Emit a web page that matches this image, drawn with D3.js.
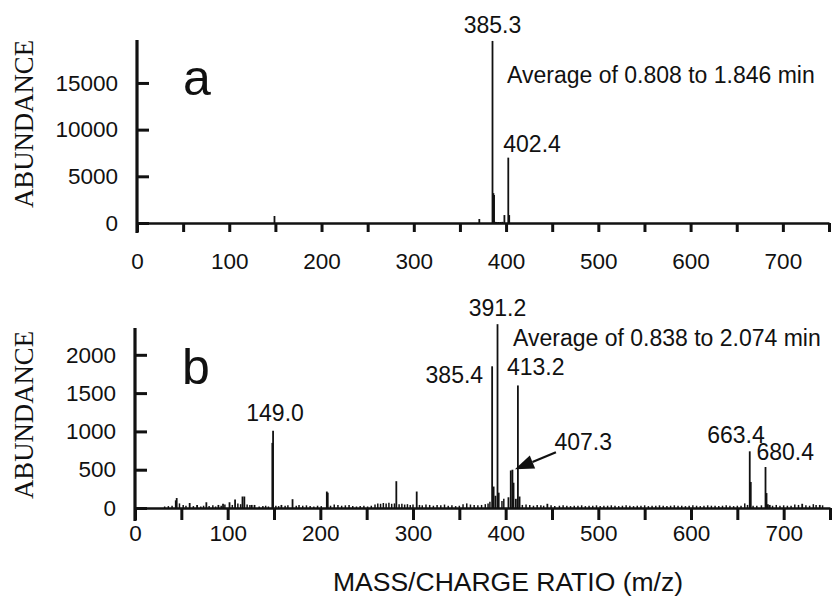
<!DOCTYPE html>
<html><head><meta charset="utf-8">
<script src="https://cdn.jsdelivr.net/npm/d3@7"></script>
<style>
html,body{margin:0;padding:0;background:#fff;}
svg{display:block;}
text{font-family:"Liberation Sans",Arial,Helvetica,sans-serif;fill:#111;}
</style></head>
<body>
<svg id="chart" width="837" height="596"></svg>
<script>
// ---------- data ----------
const xTickValues = [0,50,100,150,200,250,300,350,400,450,500,550,600,650,700,750];
const xTickLabels = [0,100,200,300,400,500,600,700];
const yTicksA = [0,5000,10000,15000];
const yTicksB = [0,500,1000,1500,2000];

// Panel a: spectrum lines (m/z, abundance)
const aMz    = [149, 371, 385.3, 386.3, 387.0, 388.5, 390, 392, 394, 396, 398.2, 402.4, 403.4];
const aAbund = [750, 430, 19500, 3200, 3000, 120, 110, 110, 110, 120, 850, 7000, 850];
const aLabelMz   = [385.3, 402.4];
const aLabelText = ["385.3", "402.4"];
const aLabelAbund= [19500, 7000];
const aNote = "Average of 0.808 to 1.846 min";

// Panel b: main spectrum lines
const bMz    = [44, 45, 59, 67, 77, 90, 95, 102, 108, 116, 118, 126, 129, 148.2, 149.0, 158, 170, 207, 208, 282, 304,
                385.4, 387, 389, 391.2, 392.5, 403, 405.5, 407.3, 408.5, 411, 413.2, 415, 445, 663.4, 664.5, 680.4, 681.5, 683, 685, 720, 739];
const bAbund = [100, 130, 65, 40, 75, 40, 55, 75, 110, 150, 150, 40, 40, 850, 1010, 40, 115, 215, 200, 350, 215,
                1850, 280, 160, 2400, 200, 140, 490, 500, 330, 120, 1600, 150, 55, 740, 340, 535, 195, 50, 40, 55, 40];
// Panel b: small baseline noise lines
const bNoiseMz    = [32,36,40,48,52,55,63,71,74,80,84,87,93,97,105,111,114,121,124,134,138,141,144,152,155,162,165,174,177,181,185,189,193,197,201,
                     211,215,219,223,227,231,235,239,243,247,251,255,259,262,265,268,271,274,277,280,285,288,291,294,297,300,307,310,314,318,322,326,
                     330,334,338,342,346,350,354,358,362,366,370,374,378,381,383,396,398,418,422,426,430,434,438,441,449,453,458,462,466,470,474,478,
                     482,486,490,494,498,502,506,510,514,518,522,526,530,534,538,542,546,550,554,558,562,566,570,574,578,582,586,590,594,598,602,606,
                     610,614,618,622,626,630,634,638,642,646,650,654,658,661,667,671,676,688,692,696,700,704,708,712,716,724,728,732,735,742,746];
const bNoiseAbund = [20,25,30,60,40,30,25,20,30,25,35,20,30,45,40,60,50,45,40,20,25,30,20,30,25,30,35,30,40,30,35,25,20,30,25,
                     30,45,40,30,35,40,25,20,25,30,20,30,45,60,55,65,60,70,55,60,50,55,45,50,40,45,40,35,45,40,30,40,
                     35,45,30,35,25,30,50,60,45,40,35,40,50,60,80,90,120,40,45,40,30,40,35,30,35,25,30,35,30,25,30,
                     30,35,25,30,30,35,25,30,30,35,30,25,30,35,30,25,30,30,35,25,30,30,35,30,25,30,35,30,30,25,30,35,
                     30,25,30,35,30,30,25,30,35,30,25,30,30,60,40,30,30,35,30,40,30,35,30,30,45,40,35,30,50,40,35];
const bLabelMz    = [149.0, 385.4, 391.2, 413.2, 407.3, 663.4, 680.4];
const bLabelText  = ["149.0", "385.4", "391.2", "413.2", "407.3", "663.4", "680.4"];
const bLabelAbund = [1010, 1850, 2400, 1600, 500, 740, 535];
const bNote = "Average of 0.838 to 2.074 min";

const yTitle = "ABUNDANCE";
const xTitle = "MASS/CHARGE RATIO (m/z)";

// ---------- layout (positions / styles) ----------
const svg = d3.select("#chart");
const FS = 22.5;

const panels = [
  { key:"a", xr:[137,829], yr:[223,40], ymax:19600, yticks:yTicksA, tickLen:9, tickPad:21,
    mz:aMz, ab:aAbund, noiseMz:[], noiseAb:[],
    labMz:aLabelMz, labText:aLabelText, labAb:aLabelAbund,
    labOff:[{dx:0,dy:-8,anchor:"middle"},{dx:-5,dy:-6,anchor:"start"}],
    note:aNote, noteX:507, noteY:83, letterX:183, letterY:95, titleY:124 },
  { key:"b", xr:[135,830], yr:[508,328], ymax:2350, yticks:yTicksB, tickLen:12, tickPad:5,
    mz:bMz, ab:bAbund, noiseMz:bNoiseMz, noiseAb:bNoiseAbund,
    labMz:bLabelMz, labText:bLabelText, labAb:bLabelAbund,
    labOff:[{dx:2,dy:-10,anchor:"middle"},{dx:-9,dy:17,anchor:"end"},{dx:0,dy:-8,anchor:"middle"},
            {dx:-11,dy:-10,anchor:"start"},{dx:42,dy:-20,anchor:"start"},{dx:15,dy:-8,anchor:"end"},{dx:-9,dy:-7,anchor:"start"}],
    note:bNote, noteX:513, noteY:346, letterX:182, letterY:384, titleY:415, arrowFor:"407.3" }
];

panels.forEach(p => {
  const x = d3.scaleLinear().domain([0,750]).range(p.xr);
  const y = d3.scaleLinear().domain([0,p.ymax]).range(p.yr);
  const g = svg.append("g");

  // noise lines
  g.append("g").selectAll("line").data(d3.zip(p.noiseMz, p.noiseAb)).join("line")
    .attr("x1", d => x(d[0])).attr("x2", d => x(d[0]))
    .attr("y1", y(0)).attr("y2", d => y(d[1]))
    .attr("stroke","#111").attr("stroke-width",1.5);

  // spectrum lines
  g.append("g").selectAll("line").data(d3.zip(p.mz, p.ab)).join("line")
    .attr("x1", d => x(d[0])).attr("x2", d => x(d[0]))
    .attr("y1", y(0)).attr("y2", d => y(d[1]))
    .attr("stroke","#111").attr("stroke-width",1.8);

  // x axis
  const xa = d3.axisBottom(x).tickValues(xTickValues).tickSizeInner(p.tickLen).tickSizeOuter(0)
    .tickPadding(p.tickPad).tickFormat(d => xTickLabels.includes(d) ? d : "");
  const gx = g.append("g").attr("transform", `translate(0,${y(0)})`).call(xa);
  gx.select(".domain").attr("stroke","#111").attr("stroke-width",2.6);
  gx.selectAll(".tick line").attr("stroke","#111").attr("stroke-width",3);
  gx.selectAll("text").style("font-size", FS+"px").attr("fill","#111");

  // y axis
  const ya = d3.axisLeft(y).tickValues(p.yticks).tickSizeInner(-12).tickSizeOuter(0)
    .tickPadding(19).tickFormat(d => d);
  const gy = g.append("g").attr("transform", `translate(${x(0)},0)`).call(ya);
  gy.select(".domain").remove();
  gy.selectAll(".tick line").attr("stroke","#111").attr("stroke-width",3);
  gy.selectAll("text").style("font-size", FS+"px").attr("fill","#111");
  g.append("line").attr("x1", x(0)).attr("x2", x(0))
    .attr("y1", y.range()[1]).attr("y2", y(0) + p.tickLen + 1)
    .attr("stroke","#111").attr("stroke-width",3.2);

  // peak labels
  p.labText.forEach((t,i) => {
    const o = p.labOff[i];
    g.append("text").attr("x", x(p.labMz[i]) + o.dx).attr("y", y(p.labAb[i]) + o.dy)
      .attr("text-anchor", o.anchor).style("font-size","23px").text(t);
  });

  // arrow for 407.3
  if (p.arrowFor) {
    const i = p.labText.indexOf(p.arrowFor);
    const tx = x(p.labMz[i]) + 2.5, ty = y(p.labAb[i]) - 0.5;
    const ex = tx + 41, ey = ty - 17;
    const len = Math.hypot(ex-tx, ey-ty), ux = (ex-tx)/len, uy = (ey-ty)/len;
    const hl = 19, hw = 7;
    const bx = tx + ux*hl, by = ty + uy*hl;
    g.append("line").attr("x1", bx).attr("y1", by).attr("x2", ex).attr("y2", ey)
      .attr("stroke","#111").attr("stroke-width",2.2);
    g.append("path").attr("d", `M${tx},${ty}L${bx - uy*hw},${by + ux*hw}L${bx + uy*hw},${by - ux*hw}Z`)
      .attr("fill","#111");
  }

  // note
  g.append("text").attr("x", p.noteX).attr("y", p.noteY).style("font-size","23px").text(p.note);
  // panel letter
  g.append("text").attr("x", p.letterX).attr("y", p.letterY).style("font-size","50px").text(p.key);
  // y title
  g.append("text").attr("transform", `translate(33,${p.titleY}) rotate(-90)`)
    .attr("text-anchor","middle").style("font-family","'Liberation Serif','Times New Roman',serif")
    .style("font-size","27px").attr("textLength",168).attr("lengthAdjust","spacingAndGlyphs")
    .text(yTitle);
});

// x title
svg.append("text").attr("x", 508).attr("y", 591).attr("text-anchor","middle")
  .style("font-size","25px").attr("textLength",350).attr("lengthAdjust","spacingAndGlyphs").text(xTitle);
</script>
</body></html>
